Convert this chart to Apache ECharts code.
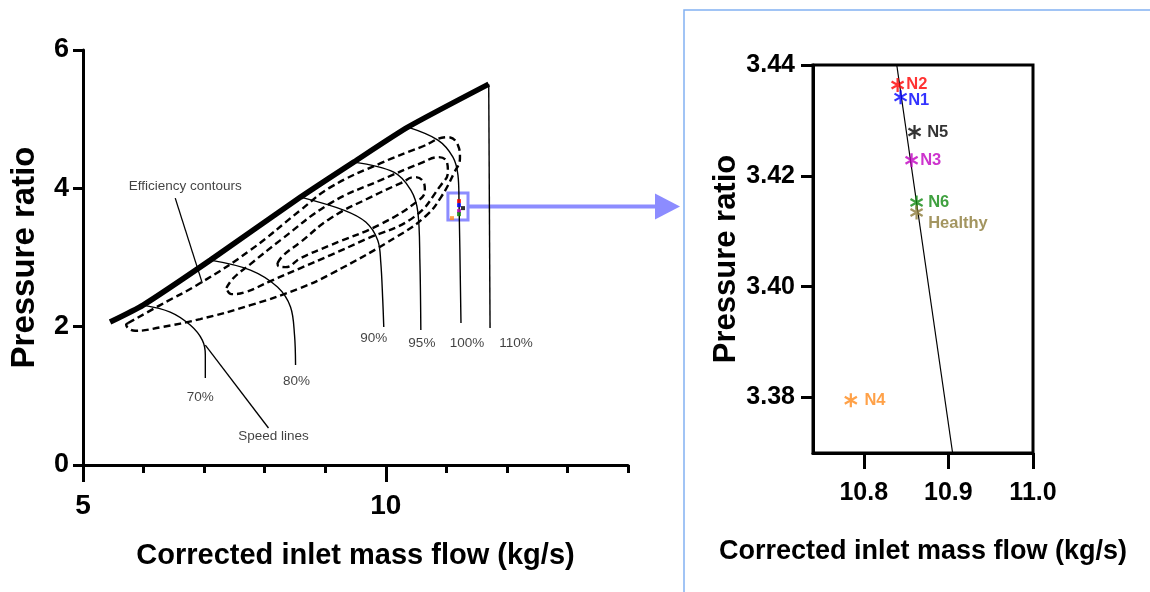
<!DOCTYPE html>
<html>
<head>
<meta charset="utf-8">
<title>Compressor map</title>
<script src="https://cdn.jsdelivr.net/npm/echarts@6/dist/echarts.min.js"></script>
<style>
html, body { margin: 0; padding: 0; background: #fff; }
#main { width: 1150px; height: 592px; }
</style>
</head>
<body>
<div id="main"></div>
<script>
// ---- left: compressor map (mass flow kg/s, pressure ratio) ----
var surgeLine = [[5.447, 2.067], [5.993, 2.312], [7.103, 2.962], [8.593, 3.873], [9.470, 4.379], [10.364, 4.884], [11.70, 5.506]];

var speed70 = [[5.993, 2.312], [6.440, 2.211], [6.771, 2.023], [6.970, 1.806], [7.020, 1.590], [7.020, 1.257]];
var speed80 = [[7.103, 2.962], [7.765, 2.818], [8.212, 2.572], [8.427, 2.283], [8.493, 1.879], [8.510, 1.445]];
var speed90 = [[8.593, 3.873], [9.305, 3.685], [9.669, 3.512], [9.867, 3.251], [9.917, 2.934], [9.950, 2.384], [9.967, 1.994]];
var speed95 = [[9.470, 4.379], [10.132, 4.234], [10.414, 3.974], [10.530, 3.656], [10.563, 2.962], [10.579, 1.951]];
var speed100 = [[10.364, 4.884], [10.861, 4.697], [11.109, 4.451], [11.192, 4.191], [11.209, 3.829], [11.242, 2.052]];
var speed110 = [[11.70, 5.506], [11.722, 1.980]];

var speedNames = ['70%', '80%', '90%', '95%', '100%', '110%'];
var speedLabelPos = [[6.937, 0.983], [8.526, 1.214], [9.801, 1.835], [10.596, 1.763], [11.341, 1.763], [12.152, 1.763]];

var contourA = [[5.745, 2.052], [6.275, 2.312], [6.937, 2.630], [7.765, 3.107], [8.593, 3.685], [9.089, 4.017], [9.917, 4.364], [10.579, 4.595], [11.026, 4.740], [11.192, 4.624], [11.225, 4.437], [11.126, 4.220], [10.910, 3.870], [10.662, 3.600], [10.199, 3.310], [9.089, 2.760], [8.593, 2.560], [7.765, 2.310], [6.937, 2.110], [6.275, 1.990], [5.861, 1.940], [5.712, 2.030], [5.745, 2.052]];
var contourB = [[7.368, 2.558], [7.483, 2.702], [7.765, 2.905], [8.262, 3.251], [9.089, 3.786], [9.917, 4.119], [10.579, 4.364], [10.877, 4.451], [11.010, 4.379], [11.026, 4.234], [10.910, 4.046], [10.463, 3.584], [9.636, 3.251], [9.089, 3.035], [8.593, 2.847], [8.096, 2.659], [7.682, 2.500], [7.450, 2.471], [7.368, 2.558]];
var contourC = [[8.212, 2.919], [8.311, 3.035], [8.593, 3.223], [9.089, 3.569], [9.752, 3.873], [10.248, 4.075], [10.480, 4.162], [10.613, 4.104], [10.646, 3.974], [10.546, 3.829], [9.917, 3.483], [9.089, 3.179], [8.593, 2.991], [8.344, 2.861], [8.228, 2.876], [8.212, 2.919]];

var effLeader = [[6.523, 3.858], [6.970, 2.630]];
var speedLeader = [[7.020, 1.734], [8.063, 0.535]];
var notes = ['Efficiency contours', 'Speed lines'];
var notePos = [[6.689, 4.032], [8.146, 0.419]];

// small copies of the operating points inside the highlight box
var miniPoints = [[11.209, 3.815], [11.209, 3.757], [11.275, 3.714], [11.209, 3.671], [11.209, 3.627], [11.093, 3.569]];
var zoomBox = [[11.026, 3.931], [11.358, 3.541]];

// ---- right: zoom around the 100% speed line ----
var pointNames = ['N2', 'N1', 'N5', 'N3', 'N6', 'Healthy', 'N4'];
var pointFlow = [10.840, 10.8435, 10.860, 10.8565, 10.8624, 10.8624, 10.7847];
var pointPR = [3.4364, 3.4342, 3.4279, 3.4228, 3.4152, 3.4134, 3.3795];
var zoomSpeedLine = [[10.839, 3.44], [10.905, 3.37]];

var xTicksLeft = [5, 10];
var xTicksRight = [10.8, 10.9, 11.0];
var yTicksRight = [3.38, 3.40, 3.42, 3.44];

var FONT = "'Liberation Sans', Arial, Helvetica, sans-serif";
var pointColors = {
    'N2': '#ff0000', 'N1': '#0000ff', 'N5': '#000000', 'N3': '#c000c0',
    'N6': '#108a10', 'Healthy': '#8c7a38', 'N4': '#ff8a1a'
};
var miniColors = ['#ff0000', '#0000ff', '#000000', '#c000c0', '#108a10', '#ff8a1a'];
var labelTweak = {
    'N2': { distance: 2, offset: [0, -1] },
    'N1': { distance: 1, offset: [0, 3] },
    'N5': { distance: 6, offset: [0, 0] },
    'N3': { distance: 2, offset: [0, 0] },
    'N6': { distance: 5, offset: [0, 0] },
    'Healthy': { distance: 5, offset: [0, 11] },
    'N4': { distance: 7, offset: [0, 0] }
};
var STAR = 'path://M-1.6,-10L1.6,-10L1.6,10L-1.6,10Z M7.86,-6.39L9.46,-3.61L-7.86,6.39L-9.46,3.61Z M-9.46,-3.61L-7.86,-6.39L9.46,3.61L7.86,6.39Z';

var chartDom = document.getElementById('main');
var myChart = echarts.init(chartDom, null, { renderer: 'canvas' });

function curve(data, width, dashed) {
    return {
        type: 'line', xAxisIndex: 0, yAxisIndex: 0,
        data: data, showSymbol: false, symbol: 'none', silent: true,
        smooth: dashed ? 0.45 : 0.35,
        lineStyle: { color: '#000', width: width, type: dashed ? [7, 4] : 'solid' },
        z: dashed ? 2 : 3
    };
}

var series = [
    curve(contourA, 2.4, true),
    curve(contourB, 2.4, true),
    curve(contourC, 2.4, true),
    curve(speed70, 1.4),
    curve(speed80, 1.4),
    curve(speed90, 1.4),
    curve(speed95, 1.4),
    curve(speed100, 1.4),
    curve(speed110, 1.4),
    {
        type: 'line', xAxisIndex: 0, yAxisIndex: 0, data: surgeLine,
        showSymbol: false, symbol: 'none', silent: true, smooth: 0.2,
        lineStyle: { color: '#000', width: 5.5 }, z: 4
    },
    {
        type: 'line', xAxisIndex: 0, yAxisIndex: 0, data: effLeader,
        showSymbol: false, symbol: 'none', silent: true,
        lineStyle: { color: '#000', width: 1.3 }
    },
    {
        type: 'line', xAxisIndex: 0, yAxisIndex: 0, data: speedLeader,
        showSymbol: false, symbol: 'none', silent: true,
        lineStyle: { color: '#000', width: 1.3 }
    },
    {
        type: 'scatter', xAxisIndex: 0, yAxisIndex: 0, symbolSize: 0, silent: true,
        data: speedNames.map(function (n, i) { return { name: n, value: speedLabelPos[i] }; })
            .concat(notes.map(function (n, i) { return { name: n, value: notePos[i] }; })),
        label: {
            show: true, position: 'inside', formatter: '{b}',
            fontFamily: FONT, fontSize: 13.5, color: '#111'
        }
    },
    {
        type: 'scatter', xAxisIndex: 0, yAxisIndex: 0, symbol: 'rect', symbolSize: 4, silent: true,
        data: miniPoints.map(function (p, i) { return { value: p, itemStyle: { color: miniColors[i] } }; }),
        z: 6,
        markArea: {
            silent: true,
            itemStyle: { color: 'rgba(0,0,0,0)', borderColor: '#8c8cff', borderWidth: 3 },
            data: [[{ coord: zoomBox[0] }, { coord: zoomBox[1] }]]
        }
    },
    {
        type: 'line', xAxisIndex: 2, yAxisIndex: 1, data: zoomSpeedLine,
        showSymbol: false, symbol: 'none', silent: true,
        lineStyle: { color: '#000', width: 1.2 }
    }
];

pointNames.forEach(function (n, i) {
    series.push({
        type: 'scatter', xAxisIndex: 2, yAxisIndex: 1, name: n,
        symbol: STAR, symbolSize: 14, symbolKeepAspect: true, silent: true, z: 5,
        itemStyle: { color: pointColors[n] },
        data: [[pointFlow[i], pointPR[i]]],
        label: {
            show: true, position: 'right', formatter: n,
            distance: labelTweak[n].distance, offset: labelTweak[n].offset,
            fontFamily: FONT, fontWeight: 'bold', fontSize: 16.5, color: pointColors[n]
        }
    });
});

var axisLine = { show: true, lineStyle: { color: '#000', width: 3 } };

var option = {
    animation: false,
    backgroundColor: '#fff',
    grid: [
        { left: 83, top: 50, width: 545, height: 415 },
        { left: 813, top: 65, width: 220, height: 388, show: true, borderColor: '#000', borderWidth: 3, backgroundColor: 'rgba(0,0,0,0)' }
    ],
    xAxis: [
        {
            gridIndex: 0, type: 'value', min: 5, max: 14, interval: 1,
            axisLine: axisLine,
            axisTick: { length: 8, lineStyle: { width: 3, color: '#000' } },
            axisLabel: { show: false },
            splitLine: { show: false },
            name: 'Corrected inlet mass flow (kg/s)', nameLocation: 'middle', nameGap: 76,
            nameTextStyle: { fontFamily: FONT, fontWeight: 'bold', fontSize: 29, color: '#000' }
        },
        {
            gridIndex: 0, type: 'value', min: 5, max: 14, position: 'bottom',
            axisLine: { show: false },
            axisTick: { length: 17, customValues: xTicksLeft, lineStyle: { width: 3, color: '#000' } },
            axisLabel: {
                customValues: xTicksLeft, margin: 27,
                fontFamily: FONT, fontWeight: 'bold', fontSize: 28, color: '#000'
            },
            splitLine: { show: false }
        },
        {
            gridIndex: 1, type: 'value', min: 10.74, max: 11.0,
            axisLine: axisLine,
            axisTick: { length: 16, customValues: xTicksRight, lineStyle: { width: 3, color: '#000' } },
            axisLabel: {
                customValues: xTicksRight, margin: 28,
                formatter: function (v) { return v.toFixed(1); },
                fontFamily: FONT, fontWeight: 'bold', fontSize: 25, color: '#000'
            },
            splitLine: { show: false },
            name: 'Corrected inlet mass flow (kg/s)', nameLocation: 'middle', nameGap: 85,
            nameTextStyle: { fontFamily: FONT, fontWeight: 'bold', fontSize: 27, color: '#000' }
        }
    ],
    yAxis: [
        {
            gridIndex: 0, type: 'value', min: 0, max: 6, interval: 2,
            axisLine: axisLine,
            axisTick: { length: 10, lineStyle: { width: 3, color: '#000' } },
            axisLabel: { margin: 14, fontFamily: FONT, fontWeight: 'bold', fontSize: 27, color: '#000' },
            splitLine: { show: false },
            name: 'Pressure ratio', nameLocation: 'middle', nameGap: 42,
            nameTextStyle: { fontFamily: FONT, fontWeight: 'bold', fontSize: 33, color: '#000' }
        },
        {
            gridIndex: 1, type: 'value', min: 3.37, max: 3.44,
            axisLine: axisLine,
            axisTick: { length: 12, customValues: yTicksRight, lineStyle: { width: 3, color: '#000' } },
            axisLabel: {
                customValues: yTicksRight, margin: 18,
                formatter: function (v) { return v.toFixed(2); },
                fontFamily: FONT, fontWeight: 'bold', fontSize: 25, color: '#000'
            },
            splitLine: { show: false },
            name: 'Pressure ratio', nameLocation: 'middle', nameGap: 70,
            nameTextStyle: { fontFamily: FONT, fontWeight: 'bold', fontSize: 31, color: '#000' }
        }
    ],
    series: series
};

myChart.setOption(option);

// panel frame and the arrow from the highlight box to the zoomed panel
var boxRight = myChart.convertToPixel({ xAxisIndex: 0, yAxisIndex: 0 }, [zoomBox[1][0], (zoomBox[0][1] + zoomBox[1][1]) / 2]);
var tipX = 680;
var ay = boxRight[1];
myChart.setOption({
    graphic: [
        {
            type: 'rect', silent: true,
            shape: { x: 684, y: 10, width: 500, height: 620 },
            style: { fill: 'none', stroke: '#82b1f2', lineWidth: 1.5 }
        },
        {
            type: 'line', silent: true,
            shape: { x1: boxRight[0], y1: ay, x2: tipX - 20, y2: ay },
            style: { stroke: '#8c8cff', lineWidth: 4 }
        },
        {
            type: 'polygon', silent: true,
            shape: { points: [[tipX - 25, ay - 13], [tipX, ay], [tipX - 25, ay + 13]] },
            style: { fill: '#8c8cff' }
        }
    ]
});
</script>
</body>
</html>
